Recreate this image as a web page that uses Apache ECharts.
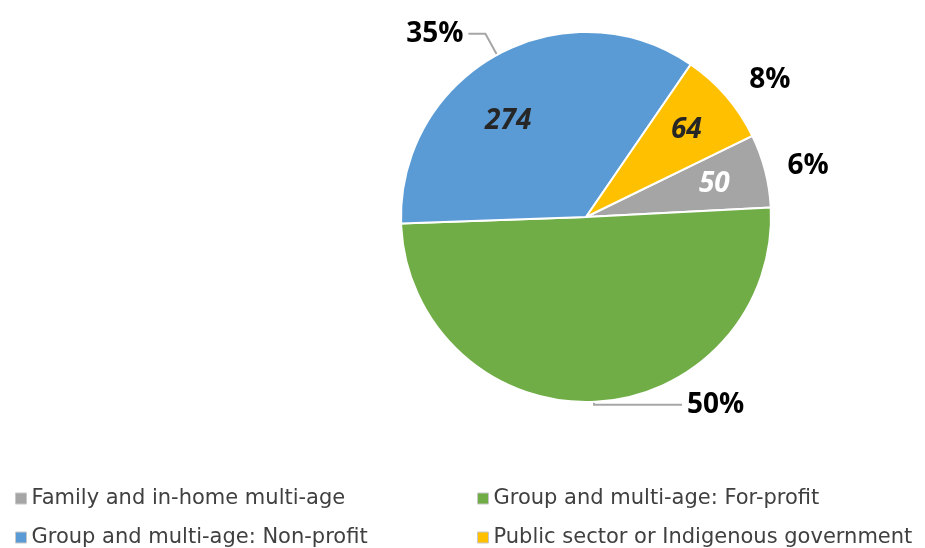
<!DOCTYPE html>
<html>
<head>
<meta charset="utf-8">
<script src="https://cdn.jsdelivr.net/npm/echarts@6/dist/echarts.min.js"></script>
<style>
  html, body { margin: 0; padding: 0; background: #fff; }
  #chart { width: 925px; height: 548px; }
</style>
</head>
<body>
<div id="chart"></div>
<script>
// categories in the order the slices are drawn (clockwise)
const categories = [
  'Family and in-home multi-age',
  'Group and multi-age: For-profit',
  'Group and multi-age: Non-profit',
  'Public sector or Indigenous government'
]
const counts = [50, 392, 274, 64]
const colors = ['#A5A5A5', '#70AD47', '#5B9BD5', '#FFC000']
const valueColors = ['#ffffff', null, '#262626', '#262626']

const leftLegend = [categories[0], categories[2]]
const rightLegend = [categories[1], categories[3]]

// outside label leader settings per slice
const outerLabel = [
  { length: 18, length2: 0, line: false },
  { length: 3, length2: 88, line: true },
  { length: 24, length2: 17, line: true },
  { length: 24, length2: 0, line: false }
]
const innerOffset = [[0, 0], [0, 0], [-14, 20], [0, 0]]

const chart = echarts.init(document.getElementById('chart'))

const mainData = categories.map((name, i) => ({
  name,
  value: counts[i],
  itemStyle: { color: colors[i] },
  labelLine: {
    show: outerLabel[i].line,
    length: outerLabel[i].length,
    length2: outerLabel[i].length2
  }
}))

const valueData = categories.map((name, i) => ({
  name,
  value: counts[i],
  label: valueColors[i]
    ? { color: valueColors[i], offset: innerOffset[i] }
    : { show: false }
}))

const legendText = { fontFamily: 'DejaVu Sans', fontSize: 21, color: '#404040' }
const legendBase = {
  orient: 'vertical', top: 488, height: 80, padding: 0,
  icon: 'rect', itemWidth: 11, itemHeight: 11, itemGap: 18,
  textStyle: legendText, selectedMode: false,
  itemStyle: { borderColor: '#c8c8c8', borderWidth: 1 }
}

chart.setOption({
  animation: false,
  color: colors,
  legend: [
    Object.assign({}, legendBase, { left: 15, data: leftLegend }),
    Object.assign({}, legendBase, { left: 477, data: rightLegend })
  ],
  series: [
    {
      type: 'pie',
      center: [586, 217],
      radius: [0, 185],
      startAngle: 26,
      clockwise: true,
      avoidLabelOverlap: false,
      itemStyle: { borderColor: '#fff', borderWidth: 2 },
      emphasis: { disabled: true },
      label: {
        position: 'outside',
        formatter: p => Math.round(p.percent) + '%',
        fontFamily: 'Open Sans',
        fontWeight: 'bold',
        fontSize: 28,
        color: '#000'
      },
      labelLine: { lineStyle: { color: '#a6a6a6', width: 2 } },
      data: mainData
    },
    {
      type: 'pie',
      center: [586, 217],
      radius: [74, 185],
      startAngle: 26,
      clockwise: true,
      silent: true,
      itemStyle: { color: 'rgba(0,0,0,0)' },
      emphasis: { disabled: true },
      label: {
        position: 'inside',
        formatter: '{c}',
        fontFamily: 'Open Sans',
        fontStyle: 'italic',
        fontWeight: 'bold',
        fontSize: 28
      },
      data: valueData
    }
  ]
})
</script>
</body>
</html>
